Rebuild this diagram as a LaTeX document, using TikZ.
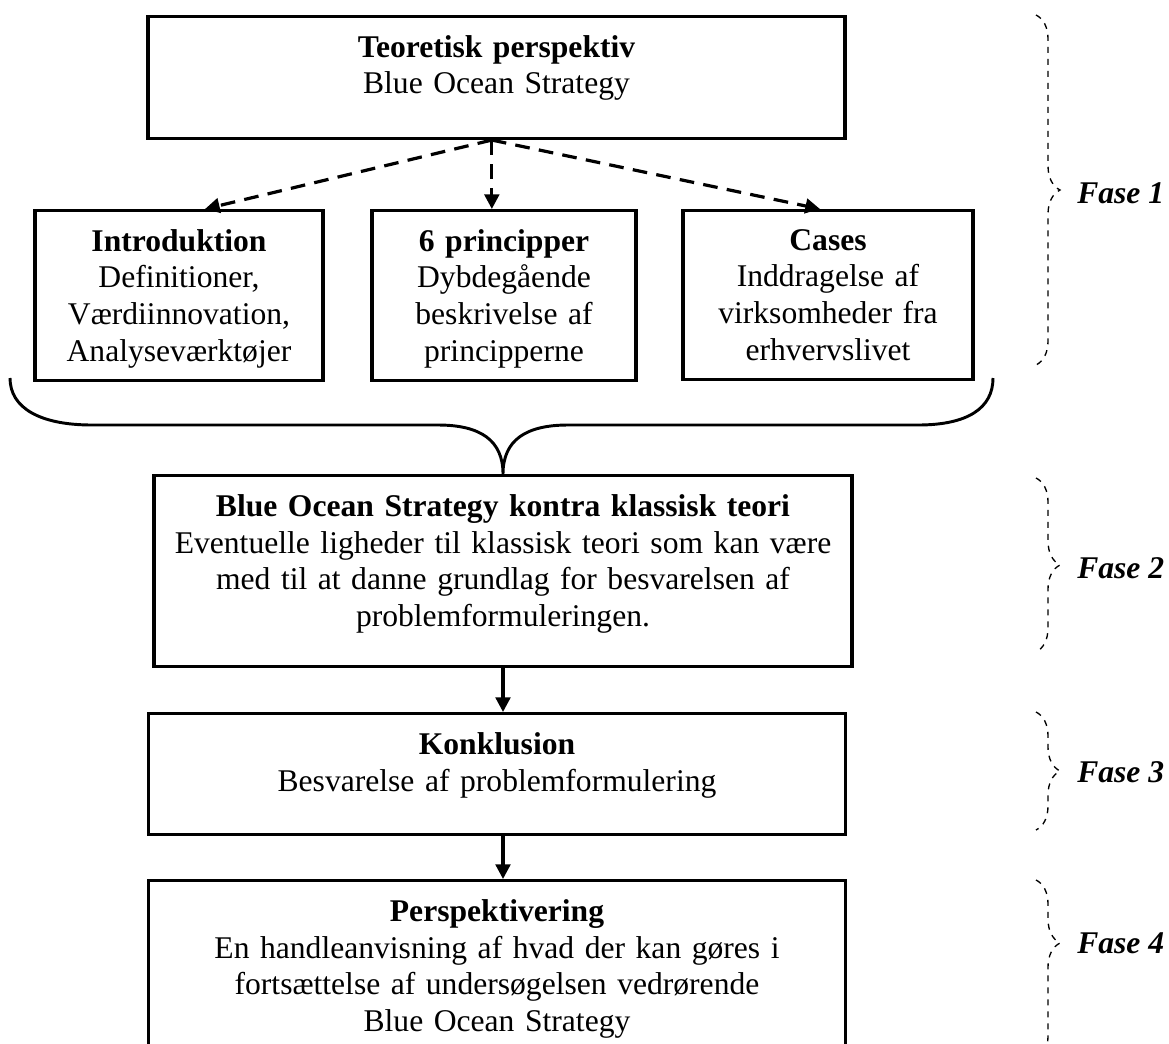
\documentclass[tikz,border=0pt]{standalone}
\usepackage{fontspec}
\setmainfont{Liberation Serif}
\usetikzlibrary{calc,arrows.meta,decorations.pathreplacing}

\newcommand{\boxfont}{\fontsize{23.7}{27.5}\selectfont}

\begin{document}
\begin{tikzpicture}[x=0.75pt,y=-0.75pt,
    box/.style={draw,line width=2.6pt,align=center,anchor=north,inner xsep=2pt,inner ysep=14pt,font=\boxfont},
    link/.style={line width=2.4pt,-{Triangle[length=11pt,width=11pt]}},
    dlink/.style={link,dash pattern=on 11pt off 7pt},
    bigbrace/.style={line width=2.2pt},
    fasebrace/.style={line width=1pt,dash pattern=on 4.5pt off 4.5pt,decorate,decoration={brace,amplitude=18pt}},
    fase/.style={anchor=west,inner sep=0pt,font=\boxfont\bfseries\itshape}]
            \useasboundingbox (0,0) rectangle (1169,1043);
            \clip (0,0) rectangle (1169,1043);

            % fase 1
            \node[box,text width=518.75pt,text depth=46.75pt] (teori) at (496.5,15)
                {\textbf{Teoretisk perspektiv}\\Blue Ocean Strategy};
            \node[box,text width=212pt,text depth=82.75pt] (intro) at (179,209)
                {\textbf{Introduktion}\\Definitioner,\\Værdiinnovation,\\Analyseværktøjer};
            \node[box,text width=194pt,text depth=82.75pt] (princip) at (504,209)
                {\textbf{6 principper}\\Dybdegående\\beskrivelse af\\principperne};
            \node[box,text width=213.5pt,text depth=82.75pt] (cases) at (828,209)
                {\textbf{Cases}\\Inddragelse af\\virksomheder fra\\erhvervslivet};

            % fase 2-4
            \node[box,text width=519.5pt,text depth=98.5pt] (kontra) at (503,474)
                {\textbf{Blue Ocean Strategy kontra klassisk teori}\\Eventuelle ligheder til klassisk teori som kan være\\med til at danne grundlag for besvarelsen af\\problemformuleringen.};
            \node[box,text width=519pt,text depth=46pt] (konkl) at (497,712)
                {\textbf{Konklusion}\\Besvarelse af problemformulering};
            \node[box,text width=519pt,text depth=92pt] (persp) at (497,879)
                {\textbf{Perspektivering}\\En handleanvisning af hvad der kan gøres i\\fortsættelse af undersøgelsen vedrørende\\Blue Ocean Strategy};

            \coordinate (src) at ([xshift=-3.5pt]teori.south);
            \draw[dlink] (src) -- ([xshift=19.5pt]intro.north);
            \draw[dlink] (src) -- (src |- princip.north);
            \draw[dlink] (src) -- ([xshift=-6pt]cases.north);
            \draw[link] (kontra.south) -- (kontra.south |- konkl.north);
            \draw[link] (kontra.south |- konkl.south) -- (kontra.south |- persp.north);

            % samlende klamme
            \draw[bigbrace] (10,378) .. controls (10,408) and (40,425) .. (92,425) -- (438,425)
                .. controls (480,425) and (503,440) .. (503,474)
                .. controls (503,440) and (526,425) .. (568,425) -- (918,425)
                .. controls (968,425) and (993,408) .. (993,378);

            % faser
            \draw[fasebrace] (1036,15) -- (1036,365);
            \node[fase] (f1) at (1077,193) {Fase 1};
            \draw[fasebrace] (1036,478) -- (1036,652);
            \node[fase] (f2) at (1077,568) {Fase 2};
            \draw[fasebrace] (1036,712) -- (1036,830);
            \node[fase] (f3) at (1077,772) {Fase 3};
            \draw[fasebrace,decoration={aspect=0.35}] (1036,880) -- (1036,1060);
            \node[fase] (f4) at (1077,943) {Fase 4};
\end{tikzpicture}
\end{document}
